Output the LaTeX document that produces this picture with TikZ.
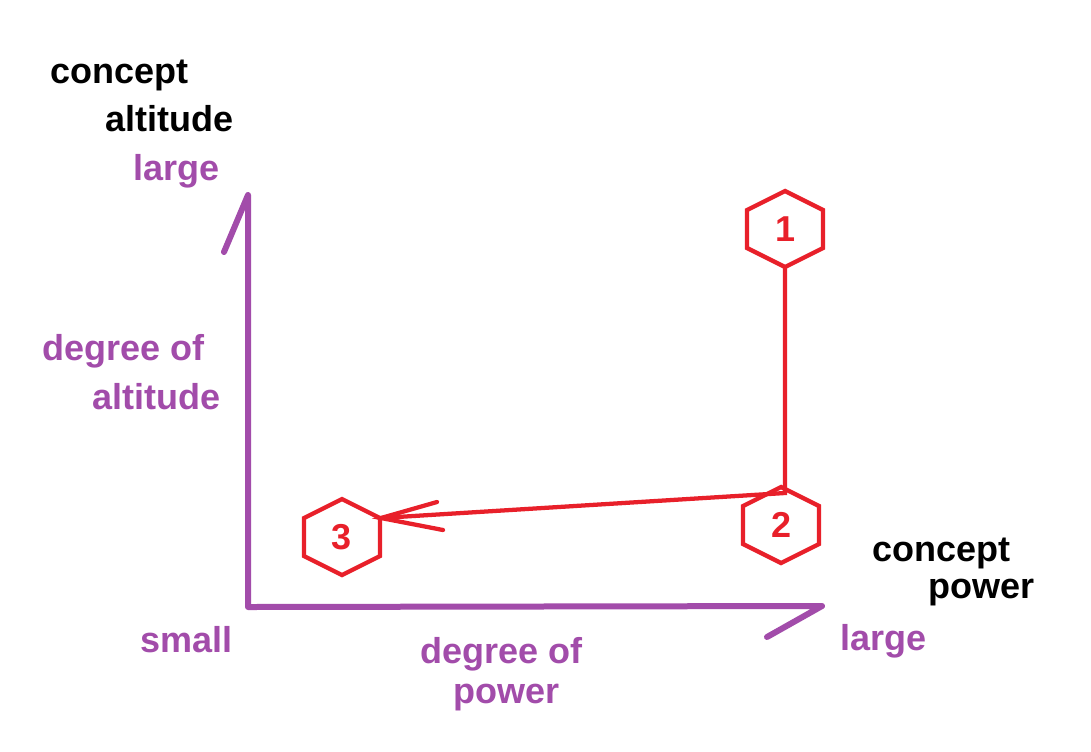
\documentclass[tikz,border=0pt]{standalone}
\usepackage{fontspec}
\setmainfont{Liberation Sans}
\definecolor{axispurple}{RGB}{162,76,170}
\definecolor{hexred}{RGB}{232,32,42}
\begin{document}
\begin{tikzpicture}[x=0.75pt,y=-0.75pt,
  lbl/.style={anchor=base west,inner sep=0pt,font=\fontsize{27pt}{31pt}\selectfont\bfseries},
  black lbl/.style={lbl,text=black},
  purple lbl/.style={lbl,text=axispurple},
  axisline/.style={draw=axispurple,line width=4.5pt,line cap=round,line join=round},
  redline/.style={draw=hexred,line width=3.2pt,line cap=round},
  hexnum/.style={inner sep=0pt,text=hexred,font=\fontsize{27pt}{30pt}\selectfont\bfseries}]
\useasboundingbox (0,0) rectangle (1091,751);
\fill[white] (0,0) rectangle (1091,751);
% axes
\coordinate (O) at (248,607);
\coordinate (Ytop) at (248,195);
\coordinate (Ybarb) at (224,252);
\coordinate (Xend) at (822,606);
\coordinate (Xbarb) at (767,637);
\draw[axisline] (Ybarb) -- (Ytop) -- (O) -- (Xend) -- (Xbarb);
% hexagons
\newcommand{\hexagonat}[3]{%
  \draw[hexred,line width=3.2pt,line join=miter] (#1,#2) ++(0,-38) -- ++(38,19) -- ++(0,38) -- ++(-38,19) -- ++(-38,-19) -- ++(0,-38) -- cycle;
  \node[hexnum] at (#1,#2) {#3};}
\hexagonat{785}{229}{1}
\hexagonat{781}{525}{2}
\hexagonat{342}{537}{3}
\coordinate (h1b) at (785,267);
\coordinate (h2t) at (785,493);
\coordinate (h3r) at (381,518);
\coordinate (b1) at (437,502);
\coordinate (b2) at (443,530);
\draw[redline] (h1b) -- (h2t) -- (h3r);
\draw[redline] (b1) -- (h3r) -- (b2);
% labels
\node[black lbl] (c1) at (50,83) {concept};
\node[black lbl] (a1) at (105,131) {altitude};
\node[purple lbl] (l1) at (133,180) {large};
\node[purple lbl] (d1) at (42,360) {degree of};
\node[purple lbl] (a2) at (92,409) {altitude};
\node[purple lbl] (s1) at (140,652) {small};
\node[purple lbl] (d2) at (420,663) {degree of};
\node[purple lbl] (p1) at (453,703) {power};
\node[purple lbl] (l2) at (840,650) {large};
\node[black lbl] (c2) at (872,561) {concept};
\node[black lbl] (p2) at (928,598) {power};
\end{tikzpicture}
\end{document}
